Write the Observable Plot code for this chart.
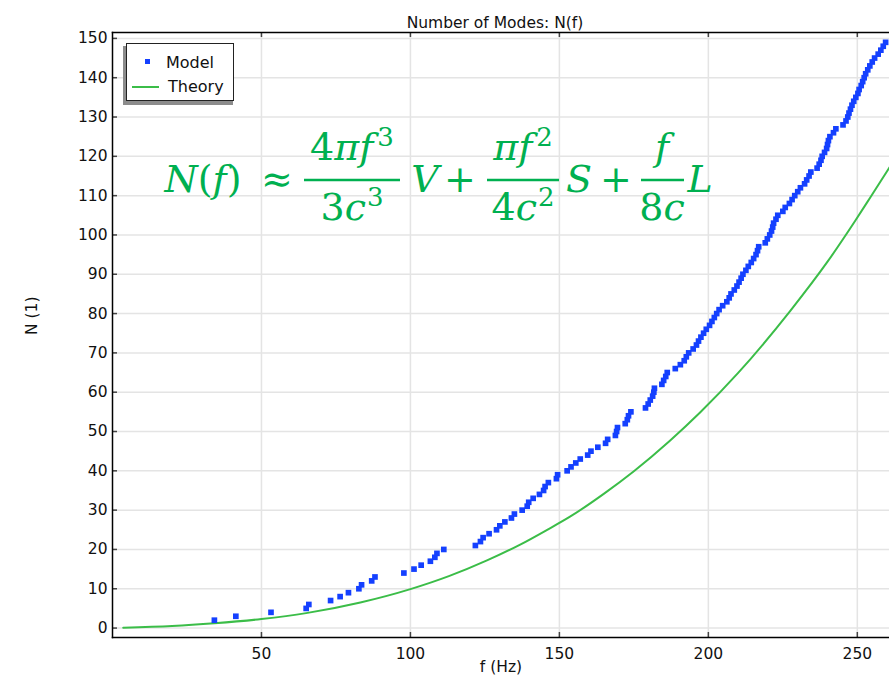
<!DOCTYPE html>
<html>
<head>
<meta charset="utf-8">
<script src="https://cdn.jsdelivr.net/npm/d3@7"></script>
<script src="https://cdn.jsdelivr.net/npm/@observablehq/plot@0.6"></script>
<style>
  html, body { margin: 0; padding: 0; background: #fff; }
  #wrap { position: relative; width: 889px; height: 678px; overflow: hidden; font-family: "DejaVu Sans", sans-serif; }
  #legend-shadow { position: absolute; left: 123px; top: 46px; width: 110px; height: 59px; background: #8c8c8c; filter: blur(0.6px); }
  #legend { position: absolute; left: 126px; top: 43px; width: 108px; height: 58px; background: #fff; border: 1px solid #222; box-sizing: border-box; }
  .lg-text { position: absolute; font-size: 16px; line-height: 16px; color: #111; }
</style>
</head>
<body>
<div id="wrap">
  <div id="chart"></div>
  <div id="legend-shadow"></div>
  <div id="legend">
    <div id="lg-sq" style="position:absolute; left:18px; top:15px; width:5px; height:5px;"></div>
    <div class="lg-text" style="left:39px; top:11px;">Model</div>
    <div id="lg-line" style="position:absolute; left:5px; top:42px; width:27px; height:2px;"></div>
    <div class="lg-text" style="left:41px; top:35px;">Theory</div>
  </div>
</div>
<script>
// ---- data ----
const modelFreq = [34.2, 41.4, 53.2, 65.0, 65.9, 73.2, 76.4, 79.2, 82.7, 83.6, 87.0, 88.1, 97.8, 101.2, 103.6, 106.7, 108.2, 108.9, 111.2,
  121.8, 123.5, 124.4, 126.4, 128.9, 130.0, 131.7, 133.9, 134.9, 137.5, 139.2, 139.7, 141.2, 143.3, 144.7, 145.2, 146.3, 149.0, 149.4,
  152.6, 153.9, 155.5, 157.0, 159.5, 160.6, 162.9, 165.5, 166.2, 168.8, 169.2, 169.5, 172.1, 172.8, 173.2, 174.0,
  178.9, 179.8, 180.5, 181.3, 181.7, 181.9, 184.4, 185.0, 185.7, 186.2, 188.9, 190.6, 191.9, 192.6, 193.4, 194.9, 196.0, 196.7,
  197.5, 198.4, 199.3, 200.4, 201.2, 202.0, 202.8, 203.6, 204.8, 206.2, 207.0, 207.6, 208.7, 209.6, 210.3, 211.0, 211.6,
  212.6, 213.4, 214.4, 215.2, 216.0, 216.5, 216.9, 219.1, 219.8, 220.6, 221.2, 221.6, 221.9, 222.7, 223.3, 225.0, 225.8,
  227.2, 228.1, 229.0, 230.0, 230.9, 232.3, 233.0, 233.8, 234.4, 236.5, 237.2, 237.8, 238.2, 239.0, 239.7, 240.0, 240.3,
  240.8, 242.0, 242.8, 245.2, 246.2, 246.8, 247.2, 247.7, 248.2, 248.8, 249.5, 250.2, 250.6, 251.3, 251.8, 252.3, 252.8,
  253.5, 254.2, 255.0, 255.8, 257.0, 257.9, 258.7, 259.5];
const modelCount = [2, 3, 4, 5, 6, 7, 8, 9, 10, 11, 12, 13, 14, 15, 16, 17, 18, 19, 20,
  21, 22, 23, 24, 25, 26, 27, 28, 29, 30, 31, 32, 33, 34, 35, 36, 37, 38, 39,
  40, 41, 42, 43, 44, 45, 46, 47, 48, 49, 50, 51, 52, 53, 54, 55,
  56, 57, 58, 59, 60, 61, 62, 63, 64, 65, 66, 67, 68, 69, 70, 71, 72, 73,
  74, 75, 76, 77, 78, 79, 80, 81, 82, 83, 84, 85, 86, 87, 88, 89, 90,
  91, 92, 93, 94, 95, 96, 97, 98, 99, 100, 101, 102, 103, 104, 105, 106, 107,
  108, 109, 110, 111, 112, 113, 114, 115, 116, 117, 118, 119, 120, 121, 122, 123, 124,
  125, 126, 127, 128, 129, 130, 131, 132, 133, 134, 135, 136, 137, 138, 139, 140, 141,
  142, 143, 144, 145, 146, 147, 148, 149];
const theoryFreq = [3.6, 20, 34.2, 50, 65, 83.2, 100, 112.9, 125.7, 137, 145.9, 153.7, 165, 175, 187, 197.3, 210, 227.5, 240, 249.3, 254.4, 260.8];
const theoryN    = [0.1, 0.5, 1.2, 2.3, 3.8, 6.5, 9.9, 13.2, 17.2, 21.3, 25.0, 28.4, 34.2, 39.9, 47.6, 54.9, 64.9, 80.7, 93.2, 103.6, 109.6, 117.2];
const xTicks = [50, 100, 150, 200, 250];
const yTicks = [0, 10, 20, 30, 40, 50, 60, 70, 80, 90, 100, 110, 120, 130, 140, 150];
const titleText = "Number of Modes: N(f)";
const xLabel = "f (Hz)";
const yLabel = "N (1)";
const seriesNames = ["Model", "Theory"];

const BLUE = "#1440ff";
const GREEN_LINE = "#3bbd48";
const EQ_GREEN = "#00b050";

const W = 889, H = 678, ML = 112, MR = 0, MT = 32, MB = 41;
const FW = W - ML - MR, FH = H - MT - MB, TICK = 5;

const model = modelFreq.map((f, i) => ({f, n: modelCount[i]}));
const theory = theoryFreq.map((f, i) => ({f, n: theoryN[i]}));

const chart = Plot.plot({
  width: W,
  height: H,
  marginLeft: ML,
  marginRight: MR,
  marginTop: MT,
  marginBottom: MB,
  x: {domain: [0, 260.8]},
  y: {domain: [-2.4, 151.5]},
  style: {fontFamily: "DejaVu Sans, sans-serif", fontSize: "15.5px", color: "#111", background: "#fff"},
  marks: [
    Plot.gridX(xTicks, {stroke: "#e4e4e4", strokeOpacity: 1, strokeWidth: 1.5}),
    Plot.gridY(yTicks, {stroke: "#e4e4e4", strokeOpacity: 1, strokeWidth: 1.5}),
    Plot.line(theory, {x: "f", y: "n", stroke: GREEN_LINE, strokeWidth: 2, curve: "monotone-x"}),
    Plot.dot(model, {x: "f", y: "n", symbol: "square", fill: BLUE, r: 3.2}),
    // inward ticks
    Plot.ruleX(xTicks, {x: d => d, insetTop: FH - TICK, stroke: "#444", strokeWidth: 1.5}),
    Plot.ruleX(xTicks, {x: d => d, insetBottom: FH - TICK, stroke: "#444", strokeWidth: 1.5}),
    Plot.ruleY(yTicks, {y: d => d, insetRight: FW - TICK, stroke: "#444", strokeWidth: 1.5}),
    // axis lines
    Plot.frame({anchor: "left", stroke: "#000", strokeWidth: 1.5}),
    Plot.frame({anchor: "bottom", stroke: "#000", strokeWidth: 1.5}),
    Plot.frame({anchor: "top", stroke: "#000", strokeWidth: 1.5}),
    // tick labels
    Plot.axisX(xTicks, {anchor: "bottom", tickSize: 0, tickPadding: 10, label: null}),
    Plot.axisY(yTicks, {anchor: "left", tickSize: 0, tickPadding: 5, label: null}),
    Plot.text([titleText], {frameAnchor: "top", dy: -16, dx: -6, fontSize: 15.5, fill: "#111"}),
    Plot.text([xLabel], {frameAnchor: "bottom", dy: 34, fontSize: 15.5, fill: "#111"}),
    Plot.text([yLabel], {frameAnchor: "left", dx: -80, rotate: -90, fontSize: 15.5, fill: "#111"})
  ]
});
document.getElementById("chart").appendChild(chart);

document.getElementById("lg-sq").style.background = BLUE;
document.getElementById("lg-line").style.background = GREEN_LINE;
const lgTexts = document.querySelectorAll(".lg-text");
lgTexts[0].textContent = seriesNames[0];
lgTexts[1].textContent = seriesNames[1];

// ---- equation annotation (real text) ----
const NS = "http://www.w3.org/2000/svg";
const eq = document.createElementNS(NS, "svg");
eq.setAttribute("width", W);
eq.setAttribute("height", H);
eq.style.position = "absolute"; eq.style.left = "0"; eq.style.top = "0";
eq.style.pointerEvents = "none";
document.getElementById("wrap").appendChild(eq);

const FS = 38;
function piece(cx, baseline, parts) {
  const t = document.createElementNS(NS, "text");
  t.setAttribute("x", cx);
  t.setAttribute("y", baseline);
  t.setAttribute("text-anchor", "middle");
  t.setAttribute("fill", EQ_GREEN);
  t.setAttribute("font-family", "DejaVu Serif, serif");
  t.setAttribute("font-size", FS);
  for (const [s, style, dxs] of parts) {
    const sp = document.createElementNS(NS, "tspan");
    sp.textContent = s;
    if (style === "i") sp.setAttribute("font-style", "italic");
    if (style === "sup") { sp.setAttribute("font-size", 26); sp.setAttribute("dy", -14); sp.setAttribute("dx", dxs ?? 4); }
    t.appendChild(sp);
  }
  eq.appendChild(t);
}
function bar(x1, x2, y) {
  const l = document.createElementNS(NS, "line");
  l.setAttribute("x1", x1); l.setAttribute("x2", x2);
  l.setAttribute("y1", y); l.setAttribute("y2", y);
  l.setAttribute("stroke", EQ_GREEN); l.setAttribute("stroke-width", 2.6);
  eq.appendChild(l);
}
piece(203, 192, [["N", "i"], ["(", "n"], ["f", "i"], [")", "n"]]);
piece(277, 192, [["≈", "n"]]);
piece(352, 160, [["4", "n"], ["π", "i"], ["f", "i"], ["3", "sup"]]);
bar(304, 400, 180);
piece(352, 220, [["3", "n"], ["c", "i"], ["3", "sup", 1]]);
piece(425, 192, [["V", "i"]]);
piece(460, 192, [["+", "n"]]);
piece(523, 160, [["π", "i"], ["f", "i"], ["2", "sup"]]);
bar(487, 559, 180);
piece(523, 220, [["4", "n"], ["c", "i"], ["2", "sup", 1]]);
piece(579, 192, [["S", "i"]]);
piece(616, 192, [["+", "n"]]);
piece(662, 160, [["f", "i"]]);
bar(641, 684, 180);
piece(662, 220, [["8", "n"], ["c", "i"]]);
piece(700, 192, [["L", "i"]]);
</script>
</body>
</html>
